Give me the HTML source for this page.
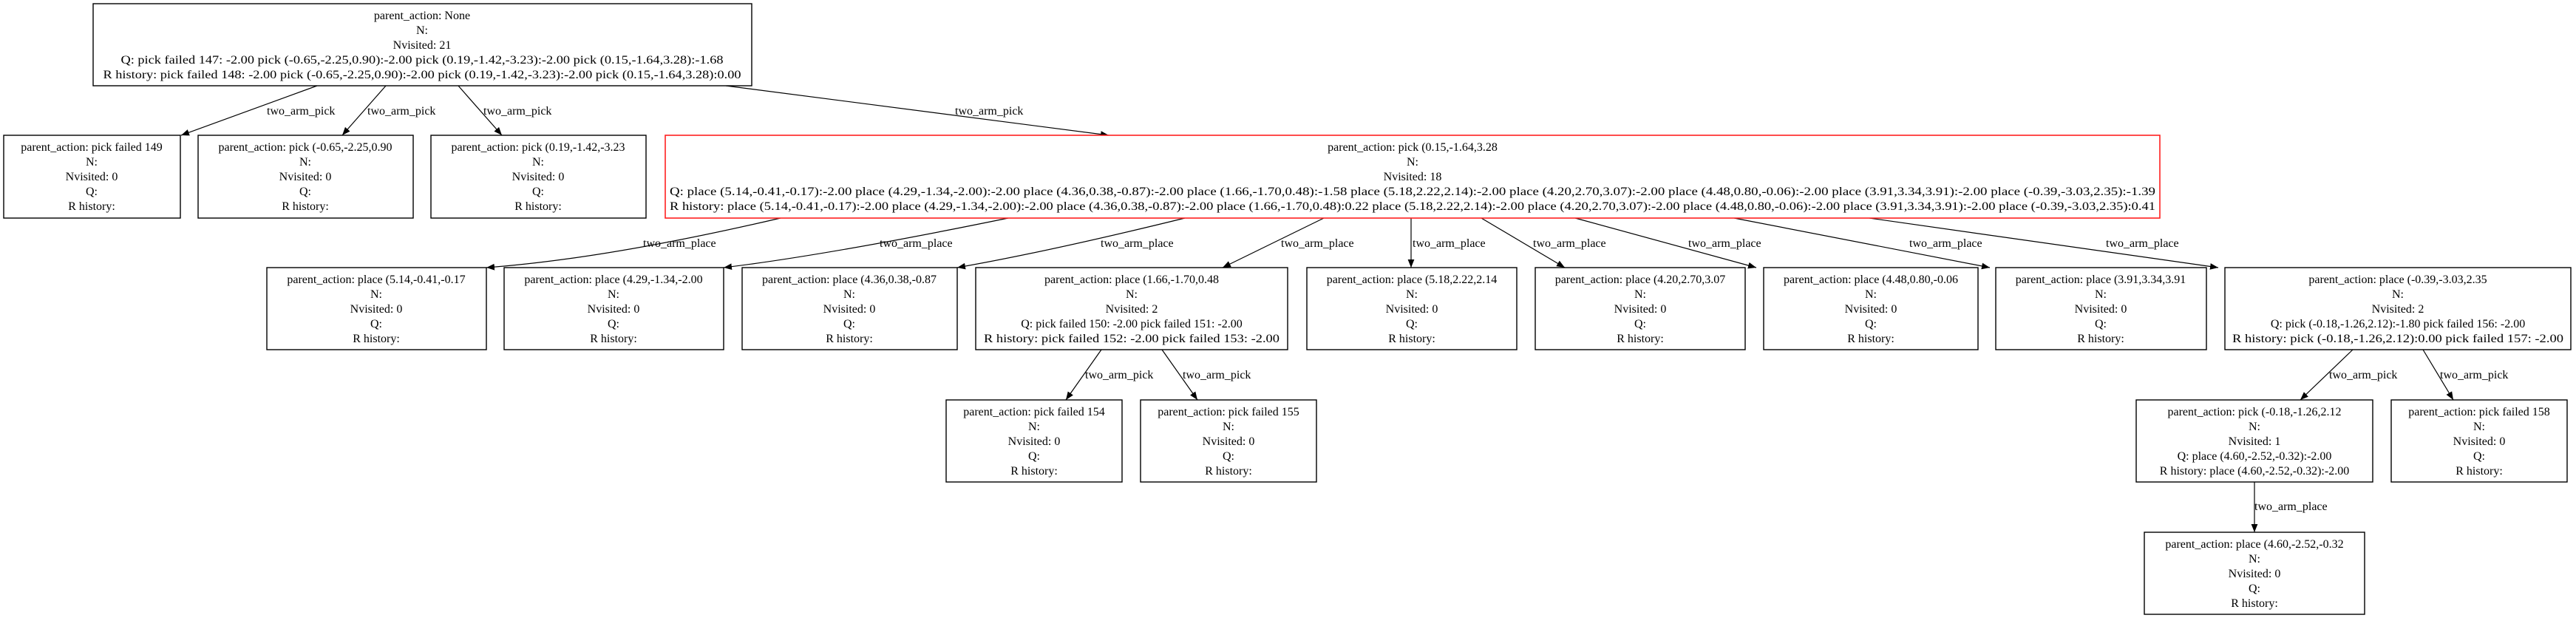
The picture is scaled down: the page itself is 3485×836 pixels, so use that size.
<!DOCTYPE html>
<html><head><meta charset="utf-8"><style>
html,body{margin:0;padding:0;background:#fff;}
svg{display:block;}
text{font-family:"Liberation Serif",serif;font-size:16px;fill:#000;}
.b{fill:#fff;stroke:#000;stroke-width:1.4;}
.r{fill:#fff;stroke:#ff2020;stroke-width:1.6;}
.e{fill:none;stroke:#000;stroke-width:1.2;}
</style></head><body>
<svg width="3485" height="836" viewBox="0 0 3485 836" xmlns="http://www.w3.org/2000/svg">
<defs><marker id="a" viewBox="0 0 10 10" refX="10" refY="5" markerWidth="11" markerHeight="11" markerUnits="userSpaceOnUse" orient="auto"><path d="M0,1 L10,5 L0,9 z" fill="#000"/></marker></defs>

<path class="e" marker-end="url(#a)" d="M429,116 L245,183"/>
<path class="e" marker-end="url(#a)" d="M522,116 L463,183"/>
<path class="e" marker-end="url(#a)" d="M620,116 L679,183"/>
<path class="e" marker-end="url(#a)" d="M982,116 L1500,183"/>
<text x="361" y="155">two_arm_pick</text>
<text x="497" y="155">two_arm_pick</text>
<text x="654" y="155">two_arm_pick</text>
<text x="1292" y="155">two_arm_pick</text>

<path class="e" marker-end="url(#a)" d="M1056,295 Q820,350 658,362"/>
<path class="e" marker-end="url(#a)" d="M1364,295 Q1120,345 979,362"/>
<path class="e" marker-end="url(#a)" d="M1603,295 Q1420,340 1295,362"/>
<path class="e" marker-end="url(#a)" d="M1791,295 L1654,362"/>
<path class="e" marker-end="url(#a)" d="M1909,295 L1909,362"/>
<path class="e" marker-end="url(#a)" d="M2004,295 L2117,362"/>
<path class="e" marker-end="url(#a)" d="M2131,295 L2376,362"/>
<path class="e" marker-end="url(#a)" d="M2346,295 L2692,362"/>
<path class="e" marker-end="url(#a)" d="M2529,295 L3001,362"/>
<text x="870" y="334">two_arm_place</text>
<text x="1190" y="334">two_arm_place</text>
<text x="1489" y="334">two_arm_place</text>
<text x="1733" y="334">two_arm_place</text>
<text x="1911" y="334">two_arm_place</text>
<text x="2074" y="334">two_arm_place</text>
<text x="2284" y="334">two_arm_place</text>
<text x="2583" y="334">two_arm_place</text>
<text x="2849" y="334">two_arm_place</text>

<path class="e" marker-end="url(#a)" d="M1490,473 L1442,541"/>
<path class="e" marker-end="url(#a)" d="M1572,473 L1620,541"/>
<text x="1468" y="512">two_arm_pick</text>
<text x="1600" y="512">two_arm_pick</text>
<path class="e" marker-end="url(#a)" d="M3183,473 L3112,541"/>
<path class="e" marker-end="url(#a)" d="M3278,473 L3319,541"/>
<text x="3151" y="512">two_arm_pick</text>
<text x="3301" y="512">two_arm_pick</text>

<path class="e" marker-end="url(#a)" d="M3050,652 L3050,720"/>
<text x="3050" y="690">two_arm_place</text>

<rect class="b" x="126" y="5" width="891" height="111"/>
<g text-anchor="middle">
<text x="571" y="26">parent_action: None</text>
<text x="571" y="46">N:</text>
<text x="571" y="66">Nvisited: 21</text>
<text x="571" y="86" textLength="815" lengthAdjust="spacingAndGlyphs">Q: pick failed 147: -2.00 pick (-0.65,-2.25,0.90):-2.00 pick (0.19,-1.42,-3.23):-2.00 pick (0.15,-1.64,3.28):-1.68</text>
<text x="571" y="106" textLength="863" lengthAdjust="spacingAndGlyphs">R history: pick failed 148: -2.00 pick (-0.65,-2.25,0.90):-2.00 pick (0.19,-1.42,-3.23):-2.00 pick (0.15,-1.64,3.28):0.00</text>
</g>

<rect class="b" x="5" y="183" width="239" height="112"/>
<g text-anchor="middle"><text x="124" y="204">parent_action: pick failed 149</text><text x="124" y="224">N:</text><text x="124" y="244">Nvisited: 0</text><text x="124" y="264">Q:</text><text x="124" y="284">R history:</text></g>
<rect class="b" x="268" y="183" width="291" height="112"/>
<g text-anchor="middle"><text x="413" y="204">parent_action: pick (-0.65,-2.25,0.90</text><text x="413" y="224">N:</text><text x="413" y="244">Nvisited: 0</text><text x="413" y="264">Q:</text><text x="413" y="284">R history:</text></g>
<rect class="b" x="583" y="183" width="291" height="112"/>
<g text-anchor="middle"><text x="728" y="204">parent_action: pick (0.19,-1.42,-3.23</text><text x="728" y="224">N:</text><text x="728" y="244">Nvisited: 0</text><text x="728" y="264">Q:</text><text x="728" y="284">R history:</text></g>
<rect class="r" x="900" y="183" width="2022" height="112"/>
<g text-anchor="middle">
<text x="1911" y="204">parent_action: pick (0.15,-1.64,3.28</text>
<text x="1911" y="224">N:</text>
<text x="1911" y="244">Nvisited: 18</text>
<text x="1911" y="264" textLength="2010" lengthAdjust="spacingAndGlyphs">Q: place (5.14,-0.41,-0.17):-2.00 place (4.29,-1.34,-2.00):-2.00 place (4.36,0.38,-0.87):-2.00 place (1.66,-1.70,0.48):-1.58 place (5.18,2.22,2.14):-2.00 place (4.20,2.70,3.07):-2.00 place (4.48,0.80,-0.06):-2.00 place (3.91,3.34,3.91):-2.00 place (-0.39,-3.03,2.35):-1.39</text>
<text x="1911" y="284" textLength="2010" lengthAdjust="spacingAndGlyphs">R history: place (5.14,-0.41,-0.17):-2.00 place (4.29,-1.34,-2.00):-2.00 place (4.36,0.38,-0.87):-2.00 place (1.66,-1.70,0.48):0.22 place (5.18,2.22,2.14):-2.00 place (4.20,2.70,3.07):-2.00 place (4.48,0.80,-0.06):-2.00 place (3.91,3.34,3.91):-2.00 place (-0.39,-3.03,2.35):0.41</text>
</g>

<rect class="b" x="361" y="362" width="297" height="111"/>
<g text-anchor="middle"><text x="509" y="383">parent_action: place (5.14,-0.41,-0.17</text><text x="509" y="403">N:</text><text x="509" y="423">Nvisited: 0</text><text x="509" y="443">Q:</text><text x="509" y="463">R history:</text></g>
<rect class="b" x="682" y="362" width="297" height="111"/>
<g text-anchor="middle"><text x="830" y="383">parent_action: place (4.29,-1.34,-2.00</text><text x="830" y="403">N:</text><text x="830" y="423">Nvisited: 0</text><text x="830" y="443">Q:</text><text x="830" y="463">R history:</text></g>
<rect class="b" x="1004" y="362" width="291" height="111"/>
<g text-anchor="middle"><text x="1149" y="383">parent_action: place (4.36,0.38,-0.87</text><text x="1149" y="403">N:</text><text x="1149" y="423">Nvisited: 0</text><text x="1149" y="443">Q:</text><text x="1149" y="463">R history:</text></g>
<rect class="b" x="1320" y="362" width="422" height="111"/>
<g text-anchor="middle"><text x="1531" y="383">parent_action: place (1.66,-1.70,0.48</text><text x="1531" y="403">N:</text><text x="1531" y="423">Nvisited: 2</text><text x="1531" y="443">Q: pick failed 150: -2.00 pick failed 151: -2.00</text><text x="1531" y="463" textLength="400" lengthAdjust="spacingAndGlyphs">R history: pick failed 152: -2.00 pick failed 153: -2.00</text></g>
<rect class="b" x="1768" y="362" width="284" height="111"/>
<g text-anchor="middle"><text x="1910" y="383">parent_action: place (5.18,2.22,2.14</text><text x="1910" y="403">N:</text><text x="1910" y="423">Nvisited: 0</text><text x="1910" y="443">Q:</text><text x="1910" y="463">R history:</text></g>
<rect class="b" x="2077" y="362" width="284" height="111"/>
<g text-anchor="middle"><text x="2219" y="383">parent_action: place (4.20,2.70,3.07</text><text x="2219" y="403">N:</text><text x="2219" y="423">Nvisited: 0</text><text x="2219" y="443">Q:</text><text x="2219" y="463">R history:</text></g>
<rect class="b" x="2386" y="362" width="290" height="111"/>
<g text-anchor="middle"><text x="2531" y="383">parent_action: place (4.48,0.80,-0.06</text><text x="2531" y="403">N:</text><text x="2531" y="423">Nvisited: 0</text><text x="2531" y="443">Q:</text><text x="2531" y="463">R history:</text></g>
<rect class="b" x="2700" y="362" width="285" height="111"/>
<g text-anchor="middle"><text x="2842" y="383">parent_action: place (3.91,3.34,3.91</text><text x="2842" y="403">N:</text><text x="2842" y="423">Nvisited: 0</text><text x="2842" y="443">Q:</text><text x="2842" y="463">R history:</text></g>
<rect class="b" x="3010" y="362" width="468" height="111"/>
<g text-anchor="middle"><text x="3244" y="383">parent_action: place (-0.39,-3.03,2.35</text><text x="3244" y="403">N:</text><text x="3244" y="423">Nvisited: 2</text><text x="3244" y="443">Q: pick (-0.18,-1.26,2.12):-1.80 pick failed 156: -2.00</text><text x="3244" y="463" textLength="448" lengthAdjust="spacingAndGlyphs">R history: pick (-0.18,-1.26,2.12):0.00 pick failed 157: -2.00</text></g>

<rect class="b" x="1280" y="541" width="238" height="111"/>
<g text-anchor="middle"><text x="1399" y="562">parent_action: pick failed 154</text><text x="1399" y="582">N:</text><text x="1399" y="602">Nvisited: 0</text><text x="1399" y="622">Q:</text><text x="1399" y="642">R history:</text></g>
<rect class="b" x="1543" y="541" width="238" height="111"/>
<g text-anchor="middle"><text x="1662" y="562">parent_action: pick failed 155</text><text x="1662" y="582">N:</text><text x="1662" y="602">Nvisited: 0</text><text x="1662" y="622">Q:</text><text x="1662" y="642">R history:</text></g>
<rect class="b" x="2890" y="541" width="320" height="111"/>
<g text-anchor="middle"><text x="3050" y="562">parent_action: pick (-0.18,-1.26,2.12</text><text x="3050" y="582">N:</text><text x="3050" y="602">Nvisited: 1</text><text x="3050" y="622">Q: place (4.60,-2.52,-0.32):-2.00</text><text x="3050" y="642">R history: place (4.60,-2.52,-0.32):-2.00</text></g>
<rect class="b" x="3235" y="541" width="238" height="111"/>
<g text-anchor="middle"><text x="3354" y="562">parent_action: pick failed 158</text><text x="3354" y="582">N:</text><text x="3354" y="602">Nvisited: 0</text><text x="3354" y="622">Q:</text><text x="3354" y="642">R history:</text></g>

<rect class="b" x="2901" y="720" width="298" height="111"/>
<g text-anchor="middle"><text x="3050" y="741">parent_action: place (4.60,-2.52,-0.32</text><text x="3050" y="761">N:</text><text x="3050" y="781">Nvisited: 0</text><text x="3050" y="801">Q:</text><text x="3050" y="821">R history:</text></g>
</svg>
</body></html>
